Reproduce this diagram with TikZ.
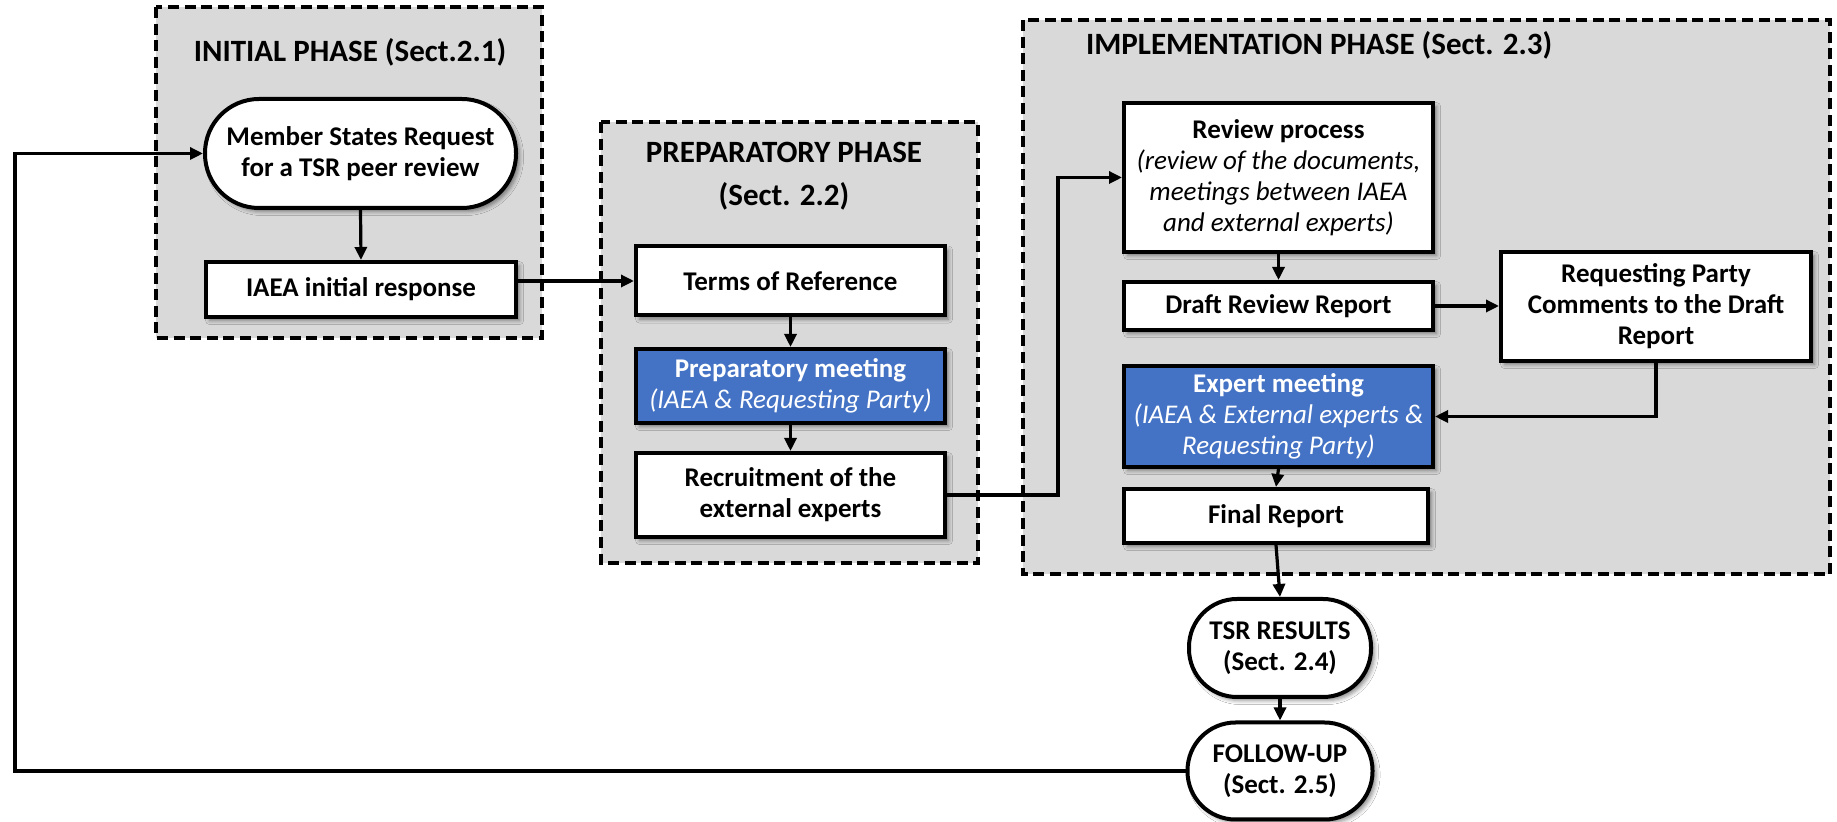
\documentclass[tikz,border=0pt]{standalone}
\usepackage{fontspec}
\setmainfont{Carlito}
\usetikzlibrary{arrows.meta,shadows.blur}
\definecolor{phasegray}{HTML}{D9D9D9}
\definecolor{meetblue}{HTML}{4472C4}
\begin{document}
\begin{tikzpicture}[x=0.5pt,y=-0.5pt,
  phase/.style={draw=black, line width=1.6pt, dash pattern=on 5.5pt off 2.8pt, fill=phasegray},
  box/.style={draw=black, line width=2pt, fill=white, inner sep=2pt, align=center,
    font=\fontsize{13.5pt}{15.5pt}\selectfont\bfseries,
    blur shadow={shadow xshift=1.8pt, shadow yshift=-1.8pt, shadow blur radius=2pt, shadow opacity=45}},
  bluebox/.style={box, fill=meetblue, text=white},
  term/.style={box, rounded corners=#1},
  arr/.style={line width=1.6pt, -{Triangle[length=6.5pt,width=6pt]}},
  title/.style={font=\fontsize{15.5pt}{21.5pt}\selectfont\bfseries, align=center}
]
\useasboundingbox (0,0) rectangle (1837,822);
\fill[white] (0,0) rectangle (1837,822);

% phase containers
\draw[phase] (156,7) rectangle (542,338);
\draw[phase] (601,122) rectangle (978,563);
\draw[phase] (1023,20) rectangle (1830,574);

\node[title] (tinit) at (350,52) {INITIAL PHASE (Sect.2.1)};
\node[title] (tprep) at (784,176.5) {PREPARATORY PHASE\\(Sect. 2.2)};
\node[title, anchor=west] (timpl) at (1079,45) {IMPLEMENTATION PHASE (Sect. 2.3)};

% nodes
\node[term=27pt, minimum width=155.5pt, minimum height=54.5pt] (ms) at (360.5,153.5) {Member States Request\\for a TSR peer review};
\node[box, minimum width=155pt, minimum height=27.5pt] (iaea) at (361,289.5) {IAEA initial response};

\node[box, minimum width=154.5pt, minimum height=34.5pt] (terms) at (790.5,281) {Terms of Reference};
\node[bluebox, minimum width=154.5pt, minimum height=37pt] (prepm) at (790.5,386) {Preparatory meeting\\{\mdseries\itshape (IAEA \& Requesting Party)}};
\node[box, minimum width=154.5pt, minimum height=42pt] (recr) at (790.5,495) {Recruitment of the\\external experts};

\node[box, minimum width=154.5pt, minimum height=74.5pt] (review) at (1278.5,177.5) {Review process\\{\mdseries\itshape (review of the documents,}\\{\mdseries\itshape meetings between IAEA}\\{\mdseries\itshape and external experts)}};
\node[box, minimum width=154.5pt, minimum height=24pt] (draft) at (1278.5,306) {Draft Review Report};
\node[box, minimum width=155pt, minimum height=54.5pt] (rp) at (1656,306.5) {Requesting Party\\Comments to the Draft\\Report};
\node[bluebox, minimum width=154.5pt, minimum height=50.5pt] (expert) at (1278.5,416.5) {Expert meeting\\{\mdseries\itshape (IAEA \& External experts \&}\\{\mdseries\itshape Requesting Party)}};
\node[box, minimum width=152pt, minimum height=27pt] (final) at (1276,516) {Final Report};

\node[term=24pt, minimum width=91pt, minimum height=49pt] (tsr) at (1280,648) {TSR RESULTS\\(Sect. 2.4)};
\node[term=24pt, minimum width=92.5pt, minimum height=48.5pt] (fu) at (1280,771) {FOLLOW-UP\\(Sect. 2.5)};

% helper coordinates
\coordinate (jx) at (1058,496);
\coordinate (fbx) at (15,776);

% connectors
\draw[arr] (ms.south) -- (iaea.north);
\draw[arr] (terms.west -| iaea.east) -- (terms.west);
\draw[arr] (terms.south) -- (prepm.north);
\draw[arr] (prepm.south) -- (recr.north);
\draw[arr] (recr.east) -| (jx |- review.west) -- (review.west);
\draw[arr] (review.south) -- (draft.north);
\draw[arr] (draft.east) -- (draft.east -| rp.west);
\draw[arr] (rp.south) |- (expert.east);
\draw[arr] (expert.south) -- (final.north);
\draw[arr] (final.south) -- (tsr.north);
\draw[arr] (tsr.south) -- (fu.north);
\draw[arr] (fu.west) -| (fbx |- ms.west) -- (ms.west);
\end{tikzpicture}
\end{document}
